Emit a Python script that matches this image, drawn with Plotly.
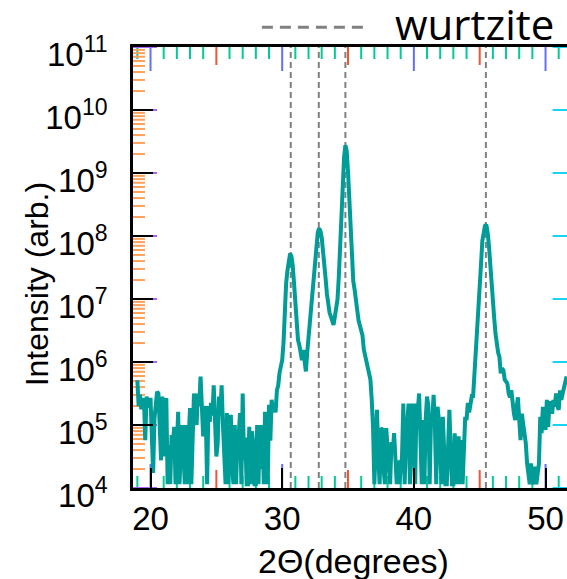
import numpy as np
import plotly.graph_objects as go

# ---- data ----
scan_start = 19.0          # degrees 2-theta
scan_step = 0.1
intensity = [
    5.13e5, 2.0e5, 3.02e5, 1.78e5, 2.4e5, 2.63e5, 5.75e4, 2.82e5, 2.0e5, 2.0e5,       # 19
    2.69e5, 9.33e4, 1.74e4, 1.26e5, 2.24e5, 3.39e5, 3.16e5, 1.0e5, 2.75e4, 2.82e5,    # 20
    3.16e4, 1.58e5, 2.69e5, 1.15e4, 4.79e4, 1.15e4, 6.92e4, 5.01e4, 9.33e4, 1.15e4,   # 21
    3.98e4, 1.62e5, 1.15e4, 2.75e4, 1.0e5, 3.98e4, 1.15e4, 1.0e5, 1.15e4, 6.31e4,     # 22
    1.86e5, 1.15e4, 4.47e4, 3.16e5, 2.0e5, 1.0e5, 3.16e5, 2.0e5, 5.89e5, 1.78e5,      # 23
    6.61e4, 2.0e5, 1.26e5, 1.15e4, 2.0e5, 1.12e5, 2.24e5, 1.41e5, 4.27e5, 1.15e5,     # 24
    3.16e4, 5.01e4, 2.82e5, 1.41e5, 4.27e5, 1.0e5, 2.34e4, 1.15e4, 1.55e5, 1.15e4,    # 25
    3.16e4, 1.45e5, 2.0e4, 1.15e4, 1.0e5, 1.15e4, 5.62e4, 7.08e4, 1.55e5, 1.15e4,     # 26
    3.16e5, 2.75e4, 6.31e4, 1.15e4, 1.15e4, 9.33e4, 1.15e4, 7.94e4, 5.01e4, 1.15e4,   # 27
    1.15e4, 1.0e5, 1.15e4, 1.0e5, 2.0e4, 1.0e5, 1.15e4, 1.62e5, 2.51e4, 1.15e4,       # 28
    2.09e5, 5.62e4, 2.51e5, 1.58e5, 2.24e5, 1.58e5, 3.55e5, 4.27e5, 6.76e5, 8.91e5,   # 29
    1.07e6, 2.0e6, 8.91e6, 1.78e7, 2.82e7, 4.17e7, 5.25e7, 4.79e7, 3.39e7, 1.78e7,    # 30
    8.91e6, 4.17e6, 2.24e6, 1.86e6, 1.26e6, 1.07e6, 1.55e6, 9.55e5, 7.08e5, 1.41e6,   # 31
    2.51e6, 3.98e6, 6.03e6, 1.26e7, 2.24e7, 4.17e7, 7.59e7, 1.12e8, 1.32e8, 1.2e8,    # 32
    9.55e7, 6.31e7, 3.55e7, 2.09e7, 1.2e7, 7.59e6, 6.03e6, 5.25e6, 4.17e6, 3.89e6,    # 33
    5.25e6, 6.61e6, 9.77e6, 2.24e7, 7.08e7, 1.78e8, 5.25e8, 1.78e9, 2.75e9, 2.24e9,   # 34
    1.05e9, 3.55e8, 1.41e8, 5.62e7, 1.91e7, 1.41e7, 9.12e6, 7.08e6, 4.57e6, 3.8e6,    # 35
    3.16e6, 2.63e6, 1.58e6, 1.26e6, 8.91e5, 7.59e5, 6.03e5, 5.25e5, 2.51e5, 9.33e4,   # 36
    1.15e4, 9.33e4, 1.74e5, 3.16e4, 1.15e4, 8.91e4, 8.51e4, 2.0e4, 1.15e4, 8.91e4,    # 37
    3.8e4, 1.58e4, 1.15e4, 5.37e4, 3.8e4, 7.41e4, 2.51e4, 1.15e4, 2.75e4, 1.15e4,     # 38
    2.0e4, 3.16e4, 2.19e5, 1.15e4, 5.75e4, 1.0e5, 2.19e5, 1.15e4, 1.2e5, 2.19e5,      # 39
    5.01e4, 1.15e4, 2.19e5, 1.74e5, 3.16e5, 6.31e4, 1.15e4, 1.2e5, 1.15e4, 1.26e5,    # 40
    2.82e5, 2.0e5, 1.15e4, 1.2e5, 1.26e5, 3.02e5, 9.33e4, 1.15e4, 1.95e5, 1.2e5,      # 41
    3.98e4, 1.15e4, 1.35e5, 4.47e4, 1.15e4, 1.15e4, 3.98e4, 1.74e5, 3.55e4, 1.15e4,   # 42
    1.15e4, 7.41e4, 1.15e4, 3.16e4, 6.61e4, 1.15e4, 5.75e4, 1.15e4, 3.98e4, 1.35e5,   # 43
    1.2e5, 2.24e5, 1.58e5, 2.0e5, 2.88e5, 2.88e5, 6.31e5, 1.12e6, 2.0e6, 4.07e6,      # 44
    1.32e7, 3.55e7, 8.32e7, 1.2e8, 1.45e8, 1.51e8, 1.15e8, 7.08e7, 3.16e7, 1.78e7,    # 45
    1.0e7, 5.01e6, 2.82e6, 1.66e6, 1.41e6, 1.2e6, 6.61e5, 7.94e5, 7.41e5, 5.25e5,     # 46
    5.01e5, 4.57e5, 3.16e5, 2.75e5, 3.55e5, 2.0e5, 1.51e5, 1.2e5, 2.24e5, 2.75e5,     # 47
    1.26e5, 5.75e4, 1.51e5, 1.0e5, 7.41e4, 5.13e4, 2.45e4, 1.58e4, 1.15e4, 2.45e4,    # 48
    1.26e4, 1.15e4, 2.19e4, 1.15e4, 1.58e4, 2.45e4, 1.35e5, 7.41e4, 1.95e5, 1.26e5,   # 49
    8.32e4, 2.51e5, 9.33e4, 2.24e5, 2.24e5, 1.51e5, 2.51e5, 1.95e5, 3.16e5, 2.0e5,    # 50
    1.74e5, 3.55e5, 2.51e5, 3.16e5, 4.07e5, 5.13e5, 5.89e5,                            # 51
]
two_theta = np.round(scan_start + scan_step * np.arange(len(intensity)), 2)

wurtzite_positions = [30.65, 32.78, 34.8, 45.47]
legend_label = "wurtzite"
x_title = "2\u0398(degrees)"
y_title = "Intensity (arb.)"

x_major = [20, 30, 40, 50]
x_major_text = ["20", "30", "40", "50"]
x_mid = [25, 35, 45]
x_minor = [v for v in range(19, 52) if v % 5 != 0]
y_decades = [1e4, 1e5, 1e6, 1e7, 1e8, 1e9, 1e10, 1e11]
y_decade_text = ["10<sup>%d</sup>" % k for k in range(4, 12)]
y_minor = [m * d for d in y_decades[:-1] for m in range(2, 10)]

x_range = [18.67, 51.63]
y_range_log = [4, 11]

TEAL = "#009c98"
GRAY = "#808080"
FONT = "Liberation Sans, Arial, Helvetica, sans-serif"

# plot-area geometry (pixels) used to turn tick lengths into axis units
PLOT_W, PLOT_H = 434, 441
px_per_deg = PLOT_W / (x_range[1] - x_range[0])
px_per_dec = PLOT_H / (y_range_log[1] - y_range_log[0])

fig = go.Figure()


def x_tick_marks(values, length):
    # vertical bar markers hugging the bottom and top frame
    half = 0.5 * length / px_per_dec
    xs = list(values) + list(values)
    ys = [10.0 ** (y_range_log[0] + half)] * len(values) + [10.0 ** (y_range_log[1] - half)] * len(values)
    fig.add_trace(go.Scatter(x=np.array(xs, dtype=float), y=np.array(ys, dtype=float),
                             mode="markers", hoverinfo="skip", showlegend=False,
                             marker=dict(symbol="line-ns-open", size=length,
                                         line=dict(color="black", width=2))))


def y_tick_marks(values, length, right=False):
    half = 0.5 * length / px_per_deg
    xpos = (x_range[1] - half) if right else (x_range[0] + half)
    fig.add_trace(go.Scatter(x=np.full(len(values), xpos), y=np.array(values, dtype=float),
                             mode="markers", hoverinfo="skip", showlegend=False,
                             marker=dict(symbol="line-ew-open", size=length,
                                         line=dict(color="black", width=2))))


x_tick_marks(x_major, 20)
x_tick_marks(x_mid, 15)
x_tick_marks(x_minor, 10)
y_tick_marks(y_decades, 20)
y_tick_marks(y_minor, 10)
y_tick_marks(y_decades, 12, right=True)   # right frame lies just outside the picture

fig.add_trace(go.Scatter(
    x=two_theta, y=intensity, mode="lines",
    line=dict(color=TEAL, width=4), showlegend=False,
))

for pos in wurtzite_positions:
    fig.add_vline(x=pos, line=dict(color=GRAY, width=2, dash="6px,4px"), layer="below")

# legend key drawn by hand (long dashed sample + label)
fig.add_shape(type="line", xref="paper", yref="paper", x0=0.297, x1=0.542, y0=1.045, y1=1.045,
              line=dict(color=GRAY, width=3, dash="11px,7px"))
fig.add_annotation(text=legend_label, xref="paper", yref="paper", x=0.600, y=1.053,
                   xanchor="left", yanchor="middle", showarrow=False,
                   font=dict(family="Open Sans, sans-serif", size=42, color="black"))

# axis titles
fig.add_annotation(text=y_title, textangle=-90, xref="paper", yref="paper",
                   x=-0.221, y=0.462, xanchor="center", yanchor="middle", showarrow=False,
                   font=dict(family=FONT, size=32, color="black"))
fig.add_annotation(text=x_title, xref="paper", yref="paper",
                   x=0.508, y=-0.166, xanchor="center", yanchor="middle", showarrow=False,
                   font=dict(family=FONT, size=34, color="black"))

common = dict(showgrid=False, zeroline=False, linecolor="black", linewidth=2.5,
              ticks="inside", tickcolor="black", tickwidth=2)

fig.update_layout(
    width=567, height=579,
    margin=dict(l=133, r=0, t=47, b=91, autoexpand=False),
    paper_bgcolor="white", plot_bgcolor="white",
    font=dict(family=FONT, size=33, color="black"),
    showlegend=False,
    xaxis=dict(**common, range=x_range, showline=True, mirror=True, ticklen=20,
               tickmode="array", tickvals=x_major, ticktext=x_major_text,
               tickfont=dict(family=FONT, size=33)),
    yaxis=dict(**common, type="log", range=y_range_log, showline=True, mirror=False, ticklen=20,
               tickmode="array", tickvals=y_decades, ticktext=y_decade_text,
               ticklabelstandoff=16, ticklabelshift=7, tickfont=dict(family=FONT, size=33)),
)

fig.write_html("out.html")
